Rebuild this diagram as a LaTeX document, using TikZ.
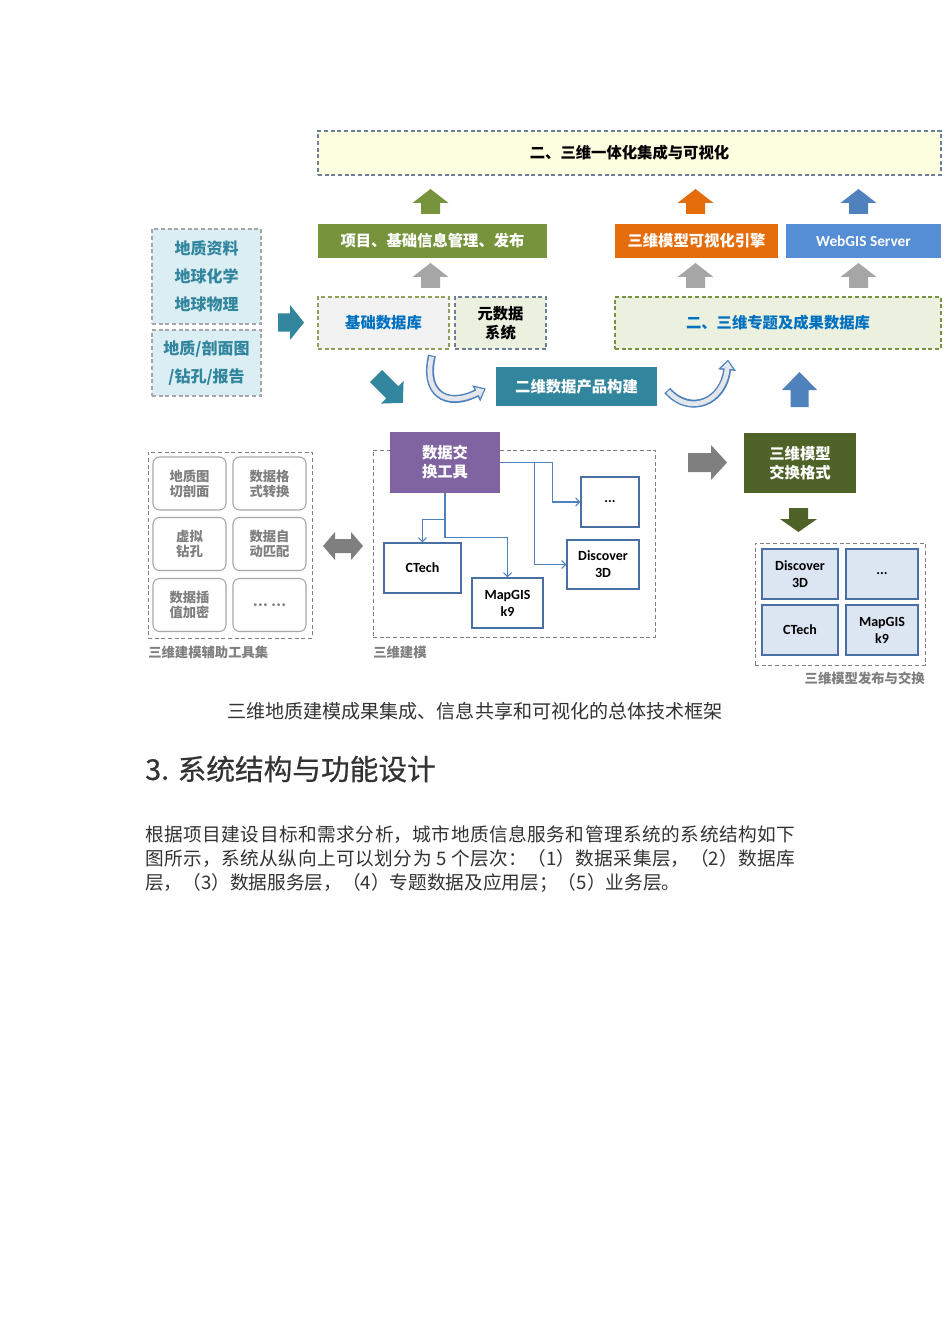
\documentclass[tikz,border=0pt]{standalone}
\usepackage{xcolor}
\usepackage{fontspec}
\setmainfont{Noto Sans CJK SC}
\newfontfamily\lat{Carlito}
\newfontfamily\cjkmid{Noto Sans CJK SC}[FakeBold=0.6]
\usepackage{tikz}
\usetikzlibrary{arrows.meta,calc}

\definecolor{lvse}{HTML}{77933C}
\definecolor{chengse}{HTML}{E46C0A}
\definecolor{tianlan}{HTML}{558ED5}
\definecolor{lanse}{HTML}{4F81BD}
\definecolor{qinglan}{HTML}{31859C}
\definecolor{shenlv}{HTML}{4F6228}
\definecolor{zise}{HTML}{8064A2}
\definecolor{huise}{HTML}{A6A6A6}
\definecolor{shenhui}{HTML}{7F7F7F}
\definecolor{danhuang}{HTML}{FDFDDF}
\definecolor{danlan}{HTML}{DAEEF3}
\definecolor{danlv}{HTML}{EBF1DE}
\definecolor{qianhui}{HTML}{F2F2F2}
\definecolor{zhuanlan}{HTML}{0070C0}
\definecolor{kuanglan}{HTML}{DCE6F2}
\definecolor{xuxian}{HTML}{6E7F9A}
\definecolor{ganlan}{HTML}{8EA05A}
\definecolor{ruanlan}{HTML}{4A6FA5}
\definecolor{neihui}{HTML}{E3E6EB}
\definecolor{zhengwen}{HTML}{333333}

% block arrow: base point, angle, length, head width, shaft width, head length, colour
\newcommand{\blkarrow}[7]{%
  \fill[#7, shift={(#1)}, rotate=#2]
    (-#5/2,0) -- (-#5/2,-#3+#6) -- (-#4/2,-#3+#6) -- (0,-#3)
    -- (#4/2,-#3+#6) -- (#5/2,-#3+#6) -- (#5/2,0) -- cycle;}

\tikzset{
  topbox/.style={draw=xuxian, fill=danhuang, dash pattern=on 3pt off 2pt, line width=0.8pt,
    font=\bfseries\fontsize{11.5}{14}\selectfont},
  solidbox/.style={inner sep=0pt, minimum height=25.5pt, text=white,
    font=\bfseries\fontsize{11.5}{14}\selectfont},
  dbbox/.style={dash pattern=on 3pt off 2pt, line width=0.8pt, minimum height=39pt, align=center,
    font=\bfseries\fontsize{11.5}{14.25}\selectfont},
  srcbox/.style={draw=huise, fill=danlan, dash pattern=on 3pt off 2pt, line width=0.8pt,
    minimum width=81.75pt, align=center, text=qinglan, font=\bfseries\fontsize{12}{21}\selectfont},
  toolbox/.style={draw=huise, fill=white, rounded corners=5pt, line width=0.8pt,
    minimum width=54.75pt, minimum height=39.75pt, align=center, text=shenhui,
    font=\bfseries\fontsize{10}{11.25}\selectfont},
  softbox/.style={draw=ruanlan, line width=0.9pt, align=center, inner sep=0pt,
    font=\lat\bfseries\fontsize{10.5}{12.75}\selectfont},
  groupbox/.style={draw=shenhui, dash pattern=on 3pt off 2pt, line width=0.7pt},
  grouplabel/.style={inner sep=0pt, text=shenhui, font=\bfseries\fontsize{10}{12}\selectfont},
  conn/.style={draw=lanse, line width=0.8pt, -{Straight Barb[length=3pt,width=6pt]}},
  curvout/.style={draw=lanse, line width=6pt, -{Triangle[length=8pt,width=13pt]}},
  curvin/.style={draw=neihui, line width=3.6pt, -{Triangle[length=5.5pt,width=8.5pt]},
    shorten >=1.4pt, shorten <=0.9pt}
}

\begin{document}
\begin{tikzpicture}[x=0.75pt,y=-0.75pt]
\fill[white] (0,0) rectangle (950,1344);
\useasboundingbox (0,0) rectangle (950,1344);

% top layer
\node[topbox, minimum width=467.25pt, minimum height=33pt] (jicheng) at (629.5,153) {二、三维一体化集成与可视化};

\node[solidbox, fill=lvse, minimum width=171.75pt] (xmgl) at (432.5,241) {项目、基础信息管理、发布};
\node[solidbox, fill=chengse, minimum width=122.25pt] (yinqing) at (696.5,241) {三维模型可视化引擎};
\node[solidbox, fill=tianlan, minimum width=116.25pt, font=\lat\bfseries\fontsize{11.5}{14}\selectfont] (webgis) at (863.5,241) {WebGIS Server};

\blkarrow{430.5,214}{0}{25}{36}{19}{14}{lvse}
\blkarrow{695.5,214}{0}{25}{36}{19}{14}{chengse}
\blkarrow{858.5,214}{0}{25}{36}{19}{14}{lanse}
\blkarrow{430.5,288}{0}{25}{36}{19}{14}{huise}
\blkarrow{695.5,288}{0}{25}{36}{19}{14}{huise}
\blkarrow{858.5,288}{0}{25}{36}{19}{14}{huise}

% data sources
\node[srcbox, minimum height=71.25pt] (ziliao) at (206.5,276.5) {地质资料\\地球化学\\地球物理};
\node[srcbox, minimum height=49.5pt] (poumian) at (206.5,363) {地质/剖面图\\/钻孔/报告};
\blkarrow{278,322.5}{-90}{26}{35}{18}{14}{qinglan}

% databases
\node[dbbox, draw=ganlan, fill=qianhui, minimum width=98.25pt, text=zhuanlan] (jcsjk) at (383.5,323) {基础数据库};
\node[dbbox, draw=xuxian, fill=danlv, minimum width=68.25pt] (yuan) at (500.5,323) {元数据\\系统};
\node[dbbox, draw=lvse, fill=danlv, minimum width=244.5pt, text=zhuanlan] (zhuanti) at (778,323) {二、三维专题及成果数据库};

\node[solidbox, fill=qinglan, minimum width=120.75pt, minimum height=29.25pt] (ewcp) at (576.5,386.5) {二维数据产品构建};

\blkarrow{376,376}{-135}{38}{32}{17}{15}{qinglan}
\blkarrow{799.5,407}{0}{35}{35}{18}{18}{lanse}

% curved arrows
\draw[curvout] ($(jcsjk.south)+(48.5,6)$) .. controls (423,392) and (445,409) .. ($(ewcp.west)+(-10,2)$);
\draw[curvin] ($(jcsjk.south)+(48.5,6)$) .. controls (423,392) and (445,409) .. ($(ewcp.west)+(-10,2)$);
\draw[curvout] ($(ewcp.east)+(10,4)$) .. controls (690,416) and (724,402) .. ($(zhuanti.south)+(-50,10)$);
\draw[curvin] ($(ewcp.east)+(10,4)$) .. controls (690,416) and (724,402) .. ($(zhuanti.south)+(-50,10)$);

% modelling helper tools
\node[groupbox, minimum width=123pt, minimum height=139.5pt] (fuzhu) at (230,545) {};
\node[grouplabel, anchor=west] (fuzhulab) at (148,652) {三维建模辅助工具集};
\node[toolbox] (qiepou) at (189.5,483.5) {地质图\\切剖面};
\node[toolbox] (geshi) at (269.5,483.5) {数据格\\式转换};
\node[toolbox] (zuankong) at (189.5,544) {虚拟\\钻孔};
\node[toolbox] (pipei) at (269.5,544) {数据自\\动匹配};
\node[toolbox] (chazhi) at (189.5,605) {数据插\\值加密};
\node[toolbox] (gengduo) at (269.5,605) {… …};

\fill[shenhui] (323,546) -- (335,532) -- (335,539) -- (351,539) -- (351,532) -- (363,546)
  -- (351,560) -- (351,553) -- (335,553) -- (335,560) -- cycle;

% modelling
\node[groupbox, minimum width=211.5pt, minimum height=140.25pt] (jianmo) at (514,543.5) {};
\node[grouplabel, anchor=west] (jianmolab) at (373,652) {三维建模};
\node[solidbox, fill=zise, minimum width=82.5pt, minimum height=45.75pt, align=center,
  font=\bfseries\fontsize{11.5}{14.25}\selectfont] (tool) at (445,462.5) {数据交\\换工具};
\node[softbox, fill=white, minimum width=57.75pt, minimum height=37.5pt] (ctech) at (422.5,568) {CTech};
\node[softbox, fill=white, minimum width=53.25pt, minimum height=37.5pt] (mapgis) at (507.5,603) {MapGIS\\k9};
\node[softbox, fill=white, minimum width=54pt, minimum height=36.75pt] (disc) at (603,564.5) {Discover\\3D};
\node[softbox, fill=white, minimum width=43.5pt, minimum height=37.5pt] (dots) at (610,502) {...};

\draw[conn] (tool.south) -- ++(0,26) -| (ctech.north);
\draw[conn] (tool.south) -- ++(0,44) -| (mapgis.north);
\draw[conn] (tool.east) -- ++(34,0) |- (disc.west);
\draw[conn] (tool.east) -- ++(52,0) |- (dots.west);

% exchange format and release
\blkarrow{688,462.5}{-90}{39}{35}{19}{16}{shenhui}
\node[solidbox, fill=shenlv, minimum width=84pt, minimum height=45pt, align=center,
  font=\bfseries\fontsize{11.5}{14.25}\selectfont] (geshi3d) at (800,463) {三维模型\\交换格式};
\blkarrow{798.5,508}{180}{24}{37}{19}{13}{shenlv}

\node[groupbox, minimum width=127.5pt, minimum height=91.5pt] (fabu) at (840,604) {};
\node[grouplabel, anchor=east] (fabulab) at (925,678) {三维模型发布与交换};
\node[softbox, fill=kuanglan, minimum width=57pt, minimum height=37.5pt] (fdisc) at (800,574) {Discover\\3D};
\node[softbox, fill=kuanglan, minimum width=54pt, minimum height=37.5pt] (fdots) at (882,574) {...};
\node[softbox, fill=kuanglan, minimum width=57pt, minimum height=37.5pt] (fctech) at (800,630) {CTech};
\node[softbox, fill=kuanglan, minimum width=54pt, minimum height=37.5pt] (fmapgis) at (882,630) {MapGIS\\k9};

% caption and text
\node[text=zhengwen, font=\fontsize{14.3}{17}\selectfont] (caption) at (475,711) {三维地质建模成果集成、信息共享和可视化的总体技术框架};
\node[anchor=west, inner sep=0pt, text=zhengwen, font=\cjkmid\fontsize{21.5}{26}\selectfont] (title) at (145,769) {3. 系统结构与功能设计};
\node[anchor=north west, inner sep=0pt, text width=487.5pt, align=justify, text=zhengwen,
  font=\fontsize{14}{18}\selectfont] (para) at (145,825) {\XeTeXlinebreaklocale "zh"\XeTeXlinebreakskip=0pt plus 2pt\noindent
  根据项目建设目标和需求分析，城市地质信息服务和管理系统的系统结构如下\linebreak 图所示，系统从纵向上可以划分为 5 个层次：（1）数据采集层，（2）数据库\linebreak 层，（3）数据服务层，（4）专题数据及应用层；（5）业务层。};
\end{tikzpicture}
\end{document}
